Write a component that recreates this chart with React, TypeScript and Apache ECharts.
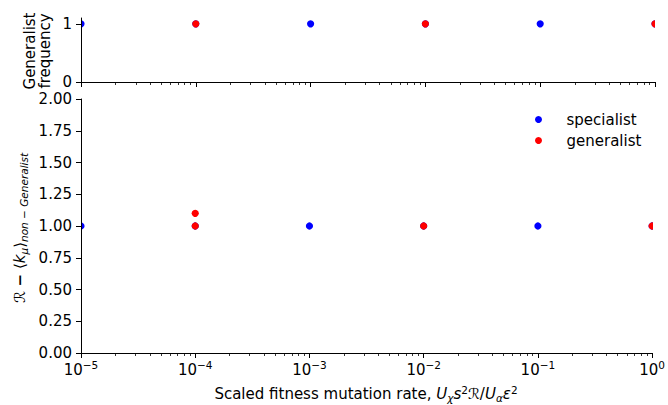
import React, { useEffect, useRef } from "react";
import * as echarts from "echarts";

// ---- data ----
const specialistX = [1e-5, 1e-4, 1e-3, 1e-2, 1e-1, 1];
const specialistFreq = [1, 1, 1, 1, 1, 1];
const generalistFreqX = [1e-4, 1e-2, 1];
const generalistFreq = [1, 1, 1];
const specialistR = [1, 1, 1, 1, 1, 1];
const generalistRX = [1e-4, 1e-4, 1e-2, 1];
const generalistR = [1.0, 1.1, 1.0, 1.0];
const xMajorTicks = [1e-5, 1e-4, 1e-3, 1e-2, 1e-1, 1];
const yTicksTop = [0, 1];
const yTicksBottom = [0, 0.25, 0.5, 0.75, 1.0, 1.25, 1.5, 1.75, 2.0];

const minorTicks: number[] = [];
for (let e = -5; e < 0; e++) {
  for (let m = 2; m <= 9; m++) minorTicks.push(m * Math.pow(10, e));
}

const FONT = "DejaVu Sans";
const BLUE = "#0000ff";
const RED = "#ff0000";

function pairs(xs: number[], ys: number[]) {
  return xs.map((x, i) => [x, ys[i]]);
}

function dotSeries(name: string, color: string, data: number[][], xi: number, yi: number) {
  return {
    type: "custom",
    name,
    xAxisIndex: xi,
    yAxisIndex: yi,
    clip: true,
    z: 2,
    itemStyle: { color },
    encode: { x: 0, y: 1 },
    data,
    renderItem: (params: any, api: any) => {
      const p = api.coord([api.value(0), api.value(1)]);
      return {
        type: "circle",
        shape: { cx: p[0], cy: p[1], r: 3.6 },
        style: { fill: color },
      };
    },
  };
}

function supText(v: number) {
  const e = Math.round(Math.log10(v));
  const s = e < 0 ? "\u2212" + -e : String(e);
  return "{b|10}{sup|" + s + "}";
}

export default function App() {
  const ref = useRef<HTMLDivElement>(null);
  useEffect(() => {
    document.body.style.margin = "0";
    const chart = echarts.init(ref.current!, null, { renderer: "svg" });
    const axisLineStyle = { color: "#000", width: 1 };
    const mainX = (gridIndex: number, labels: boolean) => ({
      type: "log",
      logBase: 10,
      gridIndex,
      min: 1e-5,
      max: 1,
      position: "bottom",
      z: 5,
      axisLine: { show: true, lineStyle: axisLineStyle },
      axisTick: { show: true, inside: false, length: 5, customValues: xMajorTicks, lineStyle: axisLineStyle },
      splitLine: { show: false },
      axisLabel: {
        show: labels,
        customValues: xMajorTicks,
        margin: 6,
        formatter: (v: number) => supText(v),
        rich: {
          b: { fontSize: 15, fontFamily: FONT, color: "#000" },
          sup: { fontSize: 10.5, fontFamily: FONT, color: "#000", padding: [0, 0, 11, 0] },
        },
      },
    });
    const minorX = (gridIndex: number) => ({
      type: "log",
      logBase: 10,
      gridIndex,
      min: 1e-5,
      max: 1,
      position: "bottom",
      z: 5,
      axisLine: { show: false },
      axisTick: { show: true, inside: false, length: 3, customValues: minorTicks, lineStyle: { color: "#000", width: 0.8 } },
      splitLine: { show: false },
      axisLabel: { show: false },
    });
    const option: any = {
      animation: false,
      grid: [
        { left: 81, right: 13, top: 18, height: 64 },
        { left: 81, right: 13, top: 99, height: 254 },
      ],
      legend: {
        left: 530,
        top: 107,
        orient: "vertical",
        icon: "circle",
        itemWidth: 46,
        itemHeight: 7,
        itemGap: 6,
        textStyle: { fontSize: 15, fontFamily: FONT, color: "#000" },
        data: ["specialist", "generalist"],
      },
      xAxis: [mainX(0, false), minorX(0), mainX(1, true), minorX(1)],
      yAxis: [
        {
          type: "value",
          gridIndex: 0,
          min: 0,
          max: 1.1,
          z: 5,
          axisLine: { show: true, lineStyle: axisLineStyle },
          axisTick: { show: true, length: 5, customValues: yTicksTop, lineStyle: axisLineStyle },
          splitLine: { show: false },
          axisLabel: { customValues: yTicksTop, margin: 9, fontSize: 15, fontFamily: FONT, color: "#000" },
        },
        {
          type: "value",
          gridIndex: 1,
          min: 0,
          max: 2,
          interval: 0.25,
          z: 5,
          axisLine: { show: true, lineStyle: axisLineStyle },
          axisTick: { show: true, length: 5, customValues: yTicksBottom, lineStyle: axisLineStyle },
          splitLine: { show: false },
          axisLabel: {
            customValues: yTicksBottom,
            margin: 9,
            fontSize: 15,
            fontFamily: FONT,
            color: "#000",
            formatter: (v: number) => v.toFixed(2),
          },
        },
      ],
      series: [
        dotSeries("specialist", BLUE, pairs(specialistX, specialistFreq), 0, 0),
        dotSeries("generalist", RED, pairs(generalistFreqX, generalistFreq), 0, 0),
        dotSeries("specialist", BLUE, pairs(specialistX, specialistR), 2, 1),
        dotSeries("generalist", RED, pairs(generalistRX, generalistR), 2, 1),
      ],
      graphic: [
        {
          type: "text",
          x: 37,
          y: 51,
          rotation: Math.PI / 2,
          style: {
            text: "Generalist\nfrequency",
            font: "15px 'DejaVu Sans'",
            fill: "#000",
            align: "center",
            verticalAlign: "middle",
            lineHeight: 15,
          },
        },
        {
          type: "text",
          x: 20,
          y: 228,
          rotation: Math.PI / 2,
          style: {
            text: "{t|\u211B }{m|\u2212}{t| \u27E8}{i|k}{s|\u03BC}{t|\u27E9}{s|non \u2212 Generalist}",
            align: "center",
            verticalAlign: "middle",
            rich: {
              t: { fontSize: 15, fontFamily: FONT, fill: "#000" },
              m: { fontSize: 15, fontFamily: FONT, fontWeight: "bold", fill: "#000" },
              i: { fontSize: 15, fontFamily: FONT, fontStyle: "italic", fill: "#000" },
              s: { fontSize: 10.5, fontFamily: FONT, fontStyle: "italic", fill: "#000", padding: [7, 0, 0, 0] },
            },
          },
        },
        {
          type: "text",
          x: 366,
          y: 394,
          style: {
            text: "{t|Scaled fitness mutation rate, }{i|U}{s|\u03C7}{i|s}{p|2}{t|\u211B/}{i|U}{s|\u03B1}{i|\u03B5}{p|2}",
            align: "center",
            verticalAlign: "middle",
            rich: {
              t: { fontSize: 15, fontFamily: FONT, fill: "#000" },
              i: { fontSize: 15, fontFamily: FONT, fontStyle: "italic", fill: "#000" },
              s: { fontSize: 10.5, fontFamily: FONT, fontStyle: "italic", fill: "#000", padding: [7, 0, 0, 0] },
              p: { fontSize: 10.5, fontFamily: FONT, fill: "#000", padding: [0, 0, 9, 0] },
            },
          },
        },
      ],
    };
    chart.setOption(option);
    return () => chart.dispose();
  }, []);
  return <div ref={ref} style={{ width: 668, height: 405 }} />;
}
